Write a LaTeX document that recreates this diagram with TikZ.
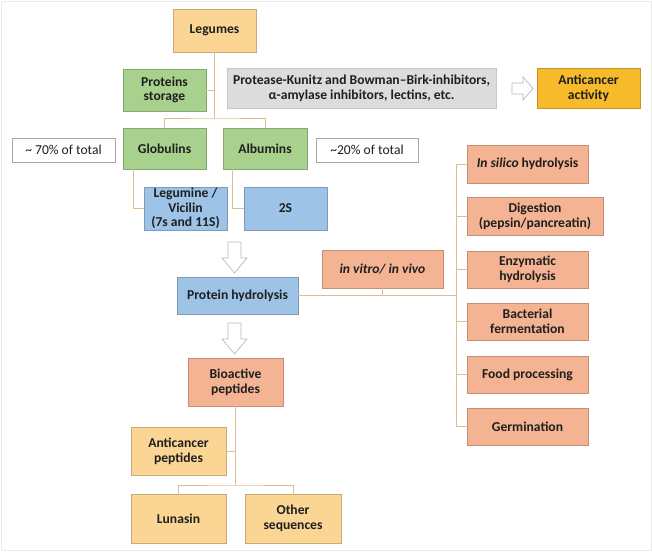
\documentclass[tikz,border=0pt]{standalone}
\usepackage{fontspec}
\setmainfont{Carlito}
\usetikzlibrary{calc}
\begin{document}
\begin{tikzpicture}[x=1pt,y=-1pt,
  txt/.style={align=center, inner sep=1pt, font=\fontsize{13.6}{14.6}\selectfont\bfseries, text=black!88},
  bx/.style={txt, draw=#1!80!black, line width=0.5pt},
  legc/.style={bx=yel, fill=yel},
  grn/.style={bx=green1, fill=green1},
  gry/.style={txt, draw=gray1!90!black, fill=gray1, line width=0.5pt},
  gold/.style={bx=gold1, fill=gold1},
  blu/.style={bx=blue1, fill=blue1},
  sal/.style={bx=salmon1, fill=salmon1},
  wht/.style={txt, draw=gray!70, fill=white, line width=0.6pt},
  conn/.style={draw=line1, line width=0.8pt},
  hollow/.style={draw=gray!55, fill=white, line width=0.7pt, line join=miter},
]
\definecolor{yel}{HTML}{FAD593}
\definecolor{green1}{HTML}{A9D18E}
\definecolor{gray1}{HTML}{DCDCDC}
\definecolor{gold1}{HTML}{F6BA2A}
\definecolor{blue1}{HTML}{9DC3E6}
\definecolor{salmon1}{HTML}{F4B493}
\definecolor{line1}{HTML}{DDBE90}
\useasboundingbox (0,0) rectangle (652,551);
\draw[draw=black!8, line width=0.8pt] (1,1) rectangle (651,550);

% top part
\node[legc, minimum width=83pt, minimum height=43pt] (legumes) at (214.5,30.5) {Legumes};
\node[grn, minimum width=83pt, minimum height=42pt] (storage) at (164.5,90) {Proteins\\storage};
\node[gry, minimum width=269pt, minimum height=40pt] (inhib) at (361.5,88) {Protease-Kunitz and Bowman--Birk-inhibitors,\\α-amylase inhibitors, lectins, etc.};
\node[gold, minimum width=103pt, minimum height=40pt] (activity) at (588.5,88) {Anticancer\\activity};
\node[wht, minimum width=103pt, minimum height=24pt] (p70) at (63.5,150) {\mdseries\textasciitilde\ 70\% of total};
\node[grn, minimum width=83pt, minimum height=41pt] (glob) at (164.5,148.5) {Globulins};
\node[grn, minimum width=84pt, minimum height=41pt] (alb) at (265,148.5) {Albumins};
\node[wht, minimum width=102pt, minimum height=24pt] (p20) at (367,150) {\mdseries\textasciitilde 20\% of total};
\node[blu, minimum width=83pt, minimum height=43pt] (leg) at (185.5,208.5) {Legumine /\\Vicilin\\(7s and 11S)};
\node[blu, minimum width=83pt, minimum height=43pt] (s2) at (285.5,208.5) {2S};

% middle
\node[blu, minimum width=121pt, minimum height=37pt] (ph) at (237.5,295.5) {Protein hydrolysis};
\node[sal, minimum width=121pt, minimum height=38pt] (vitro) at (382.5,269) {\itshape in vitro/ in vivo};
\node[sal, minimum width=95pt, minimum height=48pt] (bio) at (235.5,382) {Bioactive\\peptides};
\node[legc, minimum width=95pt, minimum height=48pt] (acp) at (178.5,451) {Anticancer\\peptides};
\node[legc, minimum width=95pt, minimum height=49pt] (lun) at (178.5,518.5) {Lunasin};
\node[legc, minimum width=96pt, minimum height=49pt] (oth) at (293,518.5) {Other\\sequences};

% right column
\node[sal, minimum width=121pt, minimum height=38pt] (silico) at (527.5,164) {\textit{In silico} hydrolysis};
\node[sal, minimum width=136pt, minimum height=38pt] (dig) at (535,216.5) {Digestion\\(pepsin/pancreatin)};
\node[sal, minimum width=121pt, minimum height=37pt] (enz) at (527.5,269.5) {Enzymatic\\hydrolysis};
\node[sal, minimum width=121pt, minimum height=37pt] (bac) at (527.5,321.5) {Bacterial\\fermentation};
\node[sal, minimum width=121pt, minimum height=37pt] (food) at (527.5,374.5) {Food processing};
\node[sal, minimum width=121pt, minimum height=37pt] (germ) at (527.5,426.5) {Germination};

% connectors top
\coordinate (j1) at (legumes.south |- 0,118);
\draw[conn] (legumes.south) -- (j1);
\draw[conn] (storage.east) -- (storage.east -| legumes.south);
\draw[conn] (glob.north) |- (j1) -| (alb.north);
\draw[conn] (glob.south -| 133,0) |- (leg.west);
\draw[conn] (alb.south -| 232,0) |- (s2.west);

% connectors middle
\coordinate (rv) at (456,295.5);
\draw[conn] (ph.east) -- (rv);
\draw[conn] (vitro.south) -- (vitro.south |- ph.east);
\draw[conn] (silico.west -| rv) -- (germ.west -| rv);
\foreach \n in {silico,dig,enz,bac,food,germ}
  \draw[conn] (\n.west -| rv) -- (\n.west);

% connectors bottom
\coordinate (j2) at (bio.south |- 0,485);
\draw[conn] (bio.south) -- (j2);
\draw[conn] (acp.east) -- (acp.east -| bio.south);
\draw[conn] (lun.north) |- (j2) -| (oth.north);

% hollow arrows
\coordinate (a1) at (234.5,242);
\coordinate (a2) at (234.5,323);
\foreach \a in {a1,a2}
  \draw[hollow] ($(\a)+(-6.5,0)$) -- ++(13,0) -- ++(0,16) -- ++(6,0) -- ($(\a)+(0,31)$)
     -- ($(\a)+(-12.5,16)$) -- ++(6,0) -- cycle;
\coordinate (a3) at (512,88.5);
\draw[hollow] ($(a3)+(0,-5.5)$) -- ++(11,0) -- ++(0,-6) -- ($(a3)+(21,0)$) -- ++(-10,11.5)
   -- ++(0,-6) -- ++(-11,0) -- cycle;
\end{tikzpicture}
\end{document}
